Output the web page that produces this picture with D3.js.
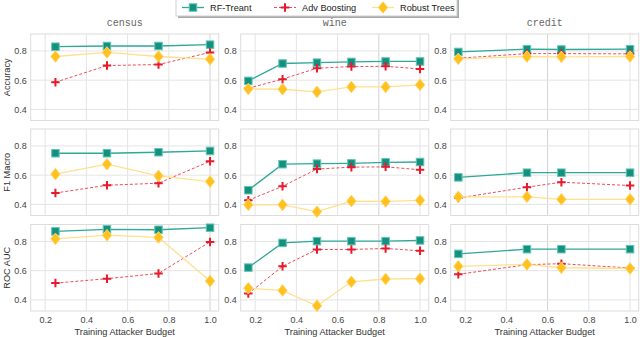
<!DOCTYPE html>
<html>
<head>
<meta charset="utf-8">
<script src="https://cdn.jsdelivr.net/npm/d3@7"></script>
<style>
  body { margin: 0; background: #fff; }
  svg { display: block; }
  text { font-family: "Liberation Sans", Arial, sans-serif; fill: #333; }
</style>
</head>
<body>
<script>
// datasets (columns), metrics (rows), models (series)
const datasets = ["census", "wine", "credit"];
const metrics = ["Accuracy", "F1 Macro", "ROC AUC"];
const models = ["RF-Treant", "Adv Boosting", "Robust Trees"];

const budgetsCensus = [0.25, 0.5, 0.75, 1.0];
const budgetsWine = [0.167, 0.333, 0.5, 0.667, 0.833, 1.0];
const budgetsCredit = [0.167, 0.5, 0.667, 1.0];

const xTicks = [0.2, 0.4, 0.6, 0.8, 1.0];
const yTicks = [0.4, 0.6, 0.8];

// census
const censusAccRF = [0.829, 0.834, 0.834, 0.843];
const censusAccAdv = [0.586, 0.700, 0.707, 0.790];
const censusAccRT = [0.762, 0.790, 0.762, 0.744];
const censusF1RF = [0.750, 0.750, 0.757, 0.766];
const censusF1Adv = [0.478, 0.531, 0.545, 0.695];
const censusF1RT = [0.607, 0.675, 0.595, 0.556];
const censusAucRF = [0.869, 0.883, 0.880, 0.894];
const censusAucAdv = [0.515, 0.545, 0.581, 0.797];
const censusAucRT = [0.818, 0.843, 0.828, 0.529];
// wine
const wineAccRF = [0.595, 0.714, 0.720, 0.725, 0.728, 0.728];
const wineAccAdv = [0.545, 0.607, 0.682, 0.693, 0.695, 0.677];
const wineAccRT = [0.540, 0.538, 0.520, 0.554, 0.554, 0.568];
const wineF1RF = [0.497, 0.675, 0.679, 0.681, 0.688, 0.690];
const wineF1Adv = [0.428, 0.524, 0.642, 0.655, 0.657, 0.637];
const wineF1RT = [0.397, 0.397, 0.350, 0.423, 0.420, 0.428];
const wineAucRF = [0.621, 0.790, 0.802, 0.802, 0.802, 0.807];
const wineAucAdv = [0.443, 0.630, 0.745, 0.745, 0.752, 0.736];
const wineAucRT = [0.480, 0.464, 0.360, 0.524, 0.543, 0.545];
// credit
const creditAccRF = [0.793, 0.812, 0.810, 0.812];
const creditAccAdv = [0.750, 0.782, 0.782, 0.780];
const creditAccRT = [0.746, 0.762, 0.760, 0.762];
const creditF1RF = [0.585, 0.617, 0.617, 0.617];
const creditF1Adv = [0.443, 0.518, 0.552, 0.529];
const creditF1RT = [0.452, 0.452, 0.435, 0.435];
const creditAucRF = [0.715, 0.747, 0.747, 0.747];
const creditAucAdv = [0.575, 0.641, 0.648, 0.618];
const creditAucRT = [0.630, 0.643, 0.620, 0.615];

const budgets = [budgetsCensus, budgetsWine, budgetsCredit];
// grid[row][col] = [rf, adv, rt]
const grid = [
  [[censusAccRF, censusAccAdv, censusAccRT], [wineAccRF, wineAccAdv, wineAccRT], [creditAccRF, creditAccAdv, creditAccRT]],
  [[censusF1RF, censusF1Adv, censusF1RT], [wineF1RF, wineF1Adv, wineF1RT], [creditF1RF, creditF1Adv, creditF1RT]],
  [[censusAucRF, censusAucAdv, censusAucRT], [wineAucRF, wineAucAdv, wineAucRT], [creditAucRF, creditAucAdv, creditAucRT]]
];

const styles = [
  {line: "#2ea898", width: 1.3, dash: null, marker: "square", fill: "#12917f", edge: "#63c4b6"},
  {line: "#ee4d58", width: 1, dash: "3,2", marker: "plus", fill: "#e8192c", edge: "#e8192c"},
  {line: "#ffe08f", width: 1.3, dash: null, marker: "diamond", fill: "#ffc020", edge: "#ffd35a"}
];

const width = 640, height = 337;
const colLeft = [30.7, 240.7, 450.7], panelW = 188;
const rowTop = [34, 129, 224.5], panelH = 86.5;
// grid line that renders a bit darker in each column of the original
const darkGrid = [1.0, 0.8, 0.6];

const x = d3.scaleLinear().domain([0.13, 1.042]).range([0, panelW]);
const y = d3.scaleLinear().domain([0.324, 0.916]).range([panelH, 0]);

const svg = d3.select("body")
  .append("svg")
  .attr("width", width)
  .attr("height", height);

function drawMarker(g, kind, st, size) {
  if (kind == "square") {
    g.append("rect")
      .attr("x", -size / 2).attr("y", -size / 2)
      .attr("width", size).attr("height", size)
      .attr("fill", st.fill).attr("stroke", st.edge).attr("stroke-width", 1);
  } else if (kind == "diamond") {
    const r = size * 0.68;
    g.append("path")
      .attr("d", `M0,${-r}L${r * 0.8},0L0,${r}L${-r * 0.8},0Z`)
      .attr("fill", st.fill).attr("stroke", st.edge).attr("stroke-width", 1);
  } else {
    const r = size / 2 + 0.5;
    g.append("path")
      .attr("d", `M${-r},0H${r}M0,${-r}V${r}`)
      .attr("stroke", st.fill).attr("stroke-width", 2).attr("fill", "none");
  }
}

function drawPanel(row, col) {
  const g = svg.append("g")
    .attr("transform", "translate(" + colLeft[col] + "," + rowTop[row] + ")");

  g.selectAll(".vgrid")
    .data(xTicks)
    .enter()
    .append("line")
    .attr("x1", d => x(d)).attr("x2", d => x(d))
    .attr("y1", 0).attr("y2", panelH)
    .attr("stroke", d => d == darkGrid[col] ? "#d3d3d3" : "#e4e4e4")
    .attr("stroke-width", 1);
  g.selectAll(".hgrid")
    .data(yTicks)
    .enter()
    .append("line")
    .attr("x1", 0).attr("x2", panelW)
    .attr("y1", d => y(d)).attr("y2", d => y(d))
    .attr("stroke", "#e4e4e4").attr("stroke-width", 1);

  g.append("rect")
    .attr("width", panelW).attr("height", panelH)
    .attr("fill", "none").attr("stroke", "#dcdcdc").attr("stroke-width", 1);

  const yAxis = d3.axisLeft(y).tickValues(yTicks).tickSize(0).tickPadding(4).tickFormat(d3.format(".1f"));
  g.append("g").call(yAxis)
    .call(a => a.select(".domain").remove())
    .selectAll("text")
    .attr("font-size", 9).style("fill", "#444")
    .style("font-family", "Liberation Sans, Arial, sans-serif");

  if (row == 2) {
    const xAxis = d3.axisBottom(x).tickValues(xTicks).tickSize(0).tickPadding(6).tickFormat(d3.format(".1f"));
    g.append("g").attr("transform", "translate(0," + panelH + ")").call(xAxis)
      .call(a => a.select(".domain").remove())
      .selectAll("text")
      .attr("font-size", 9).style("fill", "#444")
      .style("font-family", "Liberation Sans, Arial, sans-serif");
    g.append("text")
      .attr("x", panelW / 2).attr("y", panelH + 24)
      .attr("text-anchor", "middle")
      .attr("font-size", 9.2)
      .style("fill", "#333")
      .text("Training Attacker Budget");
  }
  if (row == 0) {
    g.append("text")
      .attr("x", panelW / 2).attr("y", -8.5)
      .attr("text-anchor", "middle")
      .attr("font-size", 10)
      .style("font-family", "'Liberation Mono', 'Courier New', monospace")
      .style("fill", "#666")
      .text(datasets[col]);
  }

  const xs = budgets[col];
  grid[row][col].forEach((vals, m) => {
    const st = styles[m];
    const pts = vals.map((v, i) => [xs[i], v]);
    const line = d3.line().x(d => x(d[0])).y(d => y(d[1]));
    g.append("path")
      .datum(pts)
      .attr("fill", "none")
      .attr("stroke", st.line)
      .attr("stroke-width", st.width)
      .attr("stroke-dasharray", st.dash)
      .attr("d", line);
    pts.forEach(p => {
      const mg = g.append("g").attr("transform", "translate(" + x(p[0]) + "," + y(p[1]) + ")");
      drawMarker(mg, st.marker, st, m == 2 ? 8.5 : 7.5);
    });
  });
}

for (let r = 0; r < 3; r++) {
  for (let c = 0; c < 3; c++) drawPanel(r, c);
  svg.append("text")
    .attr("transform", "translate(7," + (rowTop[r] + panelH / 2) + ") rotate(-90)")
    .attr("text-anchor", "middle")
    .attr("dy", "0.35em")
    .attr("font-size", 9.2)
    .style("fill", "#333")
    .text(metrics[r]);
}

// legend
const legendX = 176, legendW = 281;
svg.append("rect").attr("x", legendX + 2).attr("y", -3).attr("width", legendW).attr("height", 21)
  .attr("fill", "#a8a8a8");
svg.append("rect").attr("x", legendX).attr("y", -5).attr("width", legendW).attr("height", 21)
  .attr("fill", "#fff").attr("stroke", "#cfcfcf").attr("stroke-width", 1);
const legendPos = [193, 285, 383];
models.forEach((name, m) => {
  const st = styles[m];
  const cx = legendPos[m];
  svg.append("line")
    .attr("x1", cx - 11).attr("x2", cx + 11).attr("y1", 7.5).attr("y2", 7.5)
    .attr("stroke", st.line).attr("stroke-width", st.width).attr("stroke-dasharray", st.dash);
  const mg = svg.append("g").attr("transform", "translate(" + cx + ",7.5)");
  drawMarker(mg, st.marker, st, m == 2 ? 8.5 : 7.5);
  svg.append("text")
    .attr("x", cx + 17).attr("y", 7.5).attr("dy", "0.35em")
    .attr("font-size", 9.2)
    .style("fill", "#222")
    .text(name);
});
</script>
</body>
</html>
